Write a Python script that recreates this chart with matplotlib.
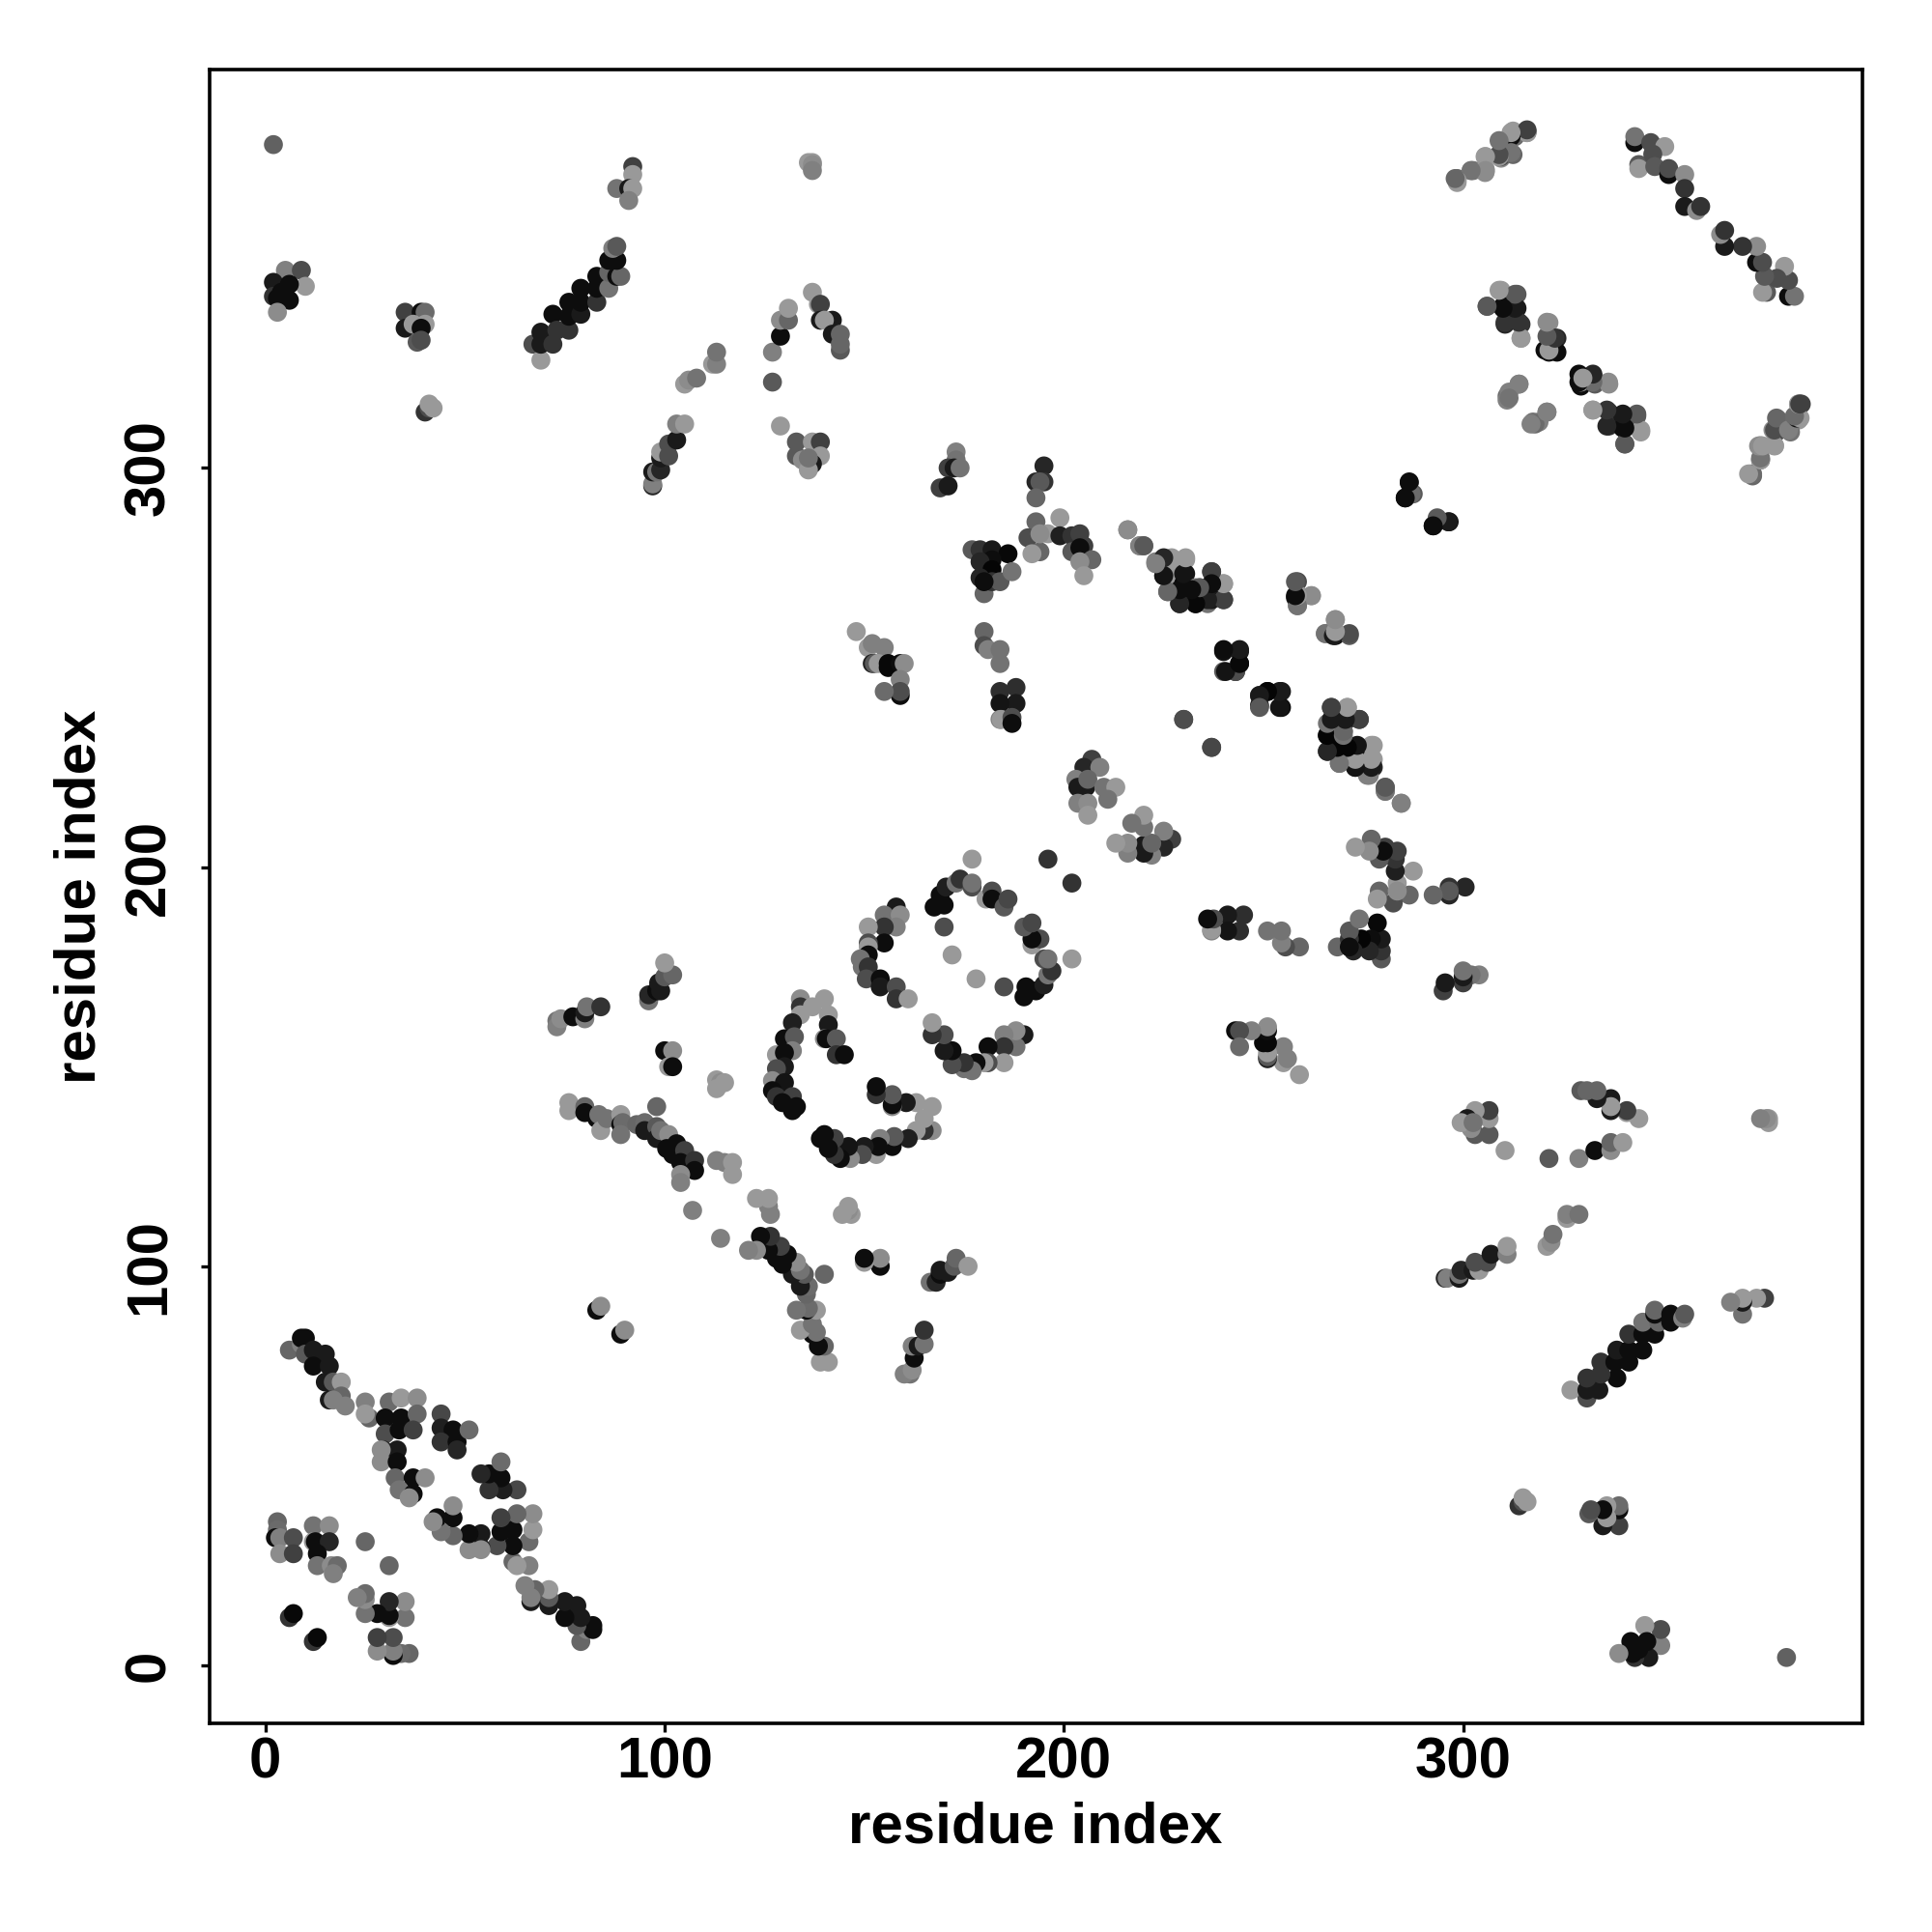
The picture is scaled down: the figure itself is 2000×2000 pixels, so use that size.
"""
contact map of a protein - residue index vs residue index, grey = contact strength
"""
import numpy as np
import matplotlib
matplotlib.use("Agg")
import matplotlib.pyplot as plt

plt.rcParams["font.family"] = ["Liberation Sans", "DejaVu Sans"]
plt.rcParams["font.weight"] = "bold"

# ---------------------------------------------------------------------------
# DATA - contacts, one triangle only (j > i),
# the map is symmetric so every contact is drawn at (i, j) and (j, i)
# ---------------------------------------------------------------------------
# bottom left hairpins
low_i = [6, 9, 10, 9, 10, 12, 15, 12, 16, 15, 17, 19, 16, 19, 20, 17,
         25, 26, 25, 31, 34, 38, 30, 34, 38, 30, 33.5, 37, 29.5, 33, 29, 29, 33, 32.5, 37, 40, 33.5, 37, 36,
         44, 44, 47, 44, 48, 48, 51]
low_j = [79, 80.5, 82, 82, 78, 79, 78, 75, 75, 71, 71, 71, 66.5, 67.5, 65, 66.5,
         66, 62, 63, 66, 67, 67, 62, 62, 63, 58, 59, 59, 54, 54, 51, 54, 51, 47, 47, 47, 44, 43, 42,
         63, 59.5, 59, 56, 56, 54, 59]
low_g = [.4, .5, .05, .05, .35, .1, .1, .05, .1, .1, .35, .6, .1, .4, .5, .5,
         .5, .4, .6, .42, .6, .55, .05, .05, .4, .3, .05, .25, .15, .1, .55, .55, .05, .4, .05, .55, .45, .05, .55,
         .28, .12, .05, .2, .05, .15, .42]

# small clusters in the corner
corner_i = [3, 3, 2.5, 3.6, 7, 3.6, 7, 12, 16, 12, 12.5, 16, 13, 13, 16.5, 18, 17, 25, 6, 7, 83, 84]
corner_j = [36, 34, 32, 32, 32, 28, 28, 35, 35, 31, 31, 31, 28, 25, 25, 25, 23, 31, 12, 13, 89, 90]
corner_g = [.4, .42, .05, .5, .3, .55, .25, .45, .55, .6, .05, .15, .05, .45, .55, .42, .5, .4, .2, .03, .05, .55]

# top left
top_i = [2, 5, 9, 2, 10, 2, 6, 3, 6, 4, 3, 35, 39, 40, 35, 37, 40, 39, 38, 39, 40, 41, 41, 42,
         67, 69, 69, 69, 72, 72, 73, 76, 76, 76, 79, 79, 79, 83, 83, 83, 86, 86, 88, 89, 86, 88, 87, 88,
         92, 92, 88, 91, 92, 91]
top_j = [381, 349.5, 349.5, 346.5, 345.5, 343, 346, 342.5, 342, 344, 339, 339, 339, 339, 335, 336, 336, 335, 331.5, 332, 314, 315, 316, 315,
         331, 327, 334, 331, 331, 338.5, 334.5, 334.5, 341.5, 338, 338.5, 345, 341.5, 341.5, 348, 345, 345, 349, 348, 348, 352, 352, 355, 355.5,
         375.5, 373.5, 370, 370, 370, 367]
top_g = [.38, .5, .3, .1, .6, .2, .05, .05, .05, .05, .55, .25, .05, .42, .1, .6, .6, .05, .35, .3, .2, .3, .6, .6,
         .3, .6, .1, .1, .2, .05, .2, .2, .05, .05, .1, .05, .05, .2, .05, .05, .45, .4, .05, .4, .05, .05, .5, .35,
         .25, .6, .45, .1, .6, .5]

# strands around residue 100-145, 295-380
upper_i = [97, 97, 97, 98, 99, 99, 99, 101, 101, 103, 103, 105, 105, 106, 108, 112, 113, 113,
           127, 127, 129, 129, 129, 131, 131, 137, 136, 137, 137, 137, 138.5, 139, 139, 142, 140, 142, 144, 144, 144,
           133, 133, 137, 139, 139, 134.5, 137, 136, 136]
upper_j = [295.5, 296, 299, 299, 299.5, 302.5, 304, 303, 306, 307, 311, 311, 321, 322, 322.5, 326, 326, 329,
           329, 321.5, 310.5, 333, 337, 337, 340, 376.5, 376.5, 376, 374.5, 344, 341, 341, 337, 337, 337, 333.5, 333.5, 329.5, 331,
           306.5, 303, 306.5, 306.5, 303, 302, 301, 299.5, 302.5]
upper_g = [.15, .5, .1, .45, .15, .1, .6, .3, .3, .1, .5, .6, .6, .55, .45, .6, .5, .45,
           .5, .35, .6, .05, .55, .4, .6, .6, .6, .55, .5, .6, .6, .25, .1, .1, .6, .1, .4, .35, .4,
           .35, .35, .6, .25, .6, .55, .1, .6, .45]

# the arc running from (170, 300) down to (240, 267)
arc_i = [173, 173, 171, 172.5, 174, 169, 171,
         195, 193, 195, 194, 193, 193, 191, 194, 196, 192, 194,
         177, 179, 182, 186, 182, 179, 180, 182, 179, 180, 182, 184, 187, 180,
         199, 199, 202, 204, 205, 202, 204, 205, 207, 204, 205,
         216, 219, 220, 223, 225, 227, 230.5, 225, 227, 230.5, 230, 226, 230, 229, 233, 233, 234, 236, 237, 237, 237, 240, 240]
arc_j = [304, 302, 300, 300, 300, 295, 295.5,
         300.5, 296.5, 296.5, 296.5, 292.5, 286.5, 282.5, 279, 283.5, 278.5, 283.5,
         279.5, 279.5, 279.5, 278.5, 277, 276.5, 271.5, 274.5, 272.5, 268.5, 271.5, 271.5, 274, 271.5,
         287.5, 283, 283, 283.5, 280.5, 279, 280, 277, 277, 276.5, 273,
         284.5, 280.5, 280.5, 276.5, 277, 277, 277, 273, 273, 273.5, 271, 269, 268.5, 266, 266, 270, 270, 266, 267, 274, 270.5, 271, 267]
arc_g = [.5, .45, .25, .1, .45, .25, .1,
         .15, .15, .2, .35, .4, .4, .3, .4, .6, .6, .55,
         .35, .2, .1, .03, .05, .15, .05, .02, .15, .4, .2, .35, .45, .05,
         .6, .12, .2, .25, .25, .35, .05, .05, .4, .55, .6,
         .5, .45, .35, .5, .1, .6, .6, .08, .6, .08, .02, .45, .02, .15, .02, .45, .4, .45, .1, .25, .1, .6, .25]

# middle column
mid_i = [258.5, 258.5, 258, 259, 262, 268, 265.5, 268, 268, 271.5,
         240, 244, 244, 243, 240, 249, 249, 251, 254.5, 254.5,
         267, 271, 274, 267, 271, 266, 270, 269.5, 266, 269.5, 273.5, 277.5, 269, 273, 277.5, 277.5, 276, 280.5, 280.5, 284.5,
         230, 237,
         180, 180, 181, 184, 184, 184, 188, 188, 184, 184, 184.3, 187, 187,
         148, 151, 152, 155, 152, 152.5, 153.5, 156, 156, 159, 160, 159, 159, 159, 155]
mid_j = [271.5, 265.5, 267.5, 268, 268, 262, 258.5, 258.5, 258, 258,
         254, 254, 251, 249, 249, 243, 240.5, 244, 244, 240,
         240, 240, 237, 236, 237, 233, 234, 232, 229, 229, 230, 230.5, 226, 225, 227, 225, 223, 219, 220, 216,
         237, 230,
         259, 255.5, 254.5, 254.5, 251, 244, 245, 241, 241, 237, 237, 237.5, 236,
         259, 255, 256, 255, 251, 251, 251, 251, 250, 251, 251, 247, 243, 244, 244]
mid_g = [.3, .45, .1, .6, .55, .55, .45, .6, .05, .35,
         .08, .1, .02, .1, .35, .3, .08, .03, .1, .05,
         .25, .6, .25, .12, .05, .03, .35, .05, .15, .05, .08, .6, .4, .08, .6, .15, .5, .5, .35, .55,
         .28, .3,
         .4, .3, .5, .45, .45, .18, .18, .1, .08, .5, .6, .3, .05,
         .6, .6, .5, .5, .12, .35, .6, .03, .03, .05, .55, .5, .05, .3, .42]

# near the diagonal, residues 203-213 and the long strand 73-108
near_i = [207, 205, 209, 203, 203.5, 205.5, 206, 210, 213, 211, 203.5, 206, 206,
          73, 73, 74, 77, 80, 80, 80.5, 84, 96, 96, 98, 99, 98.5, 100, 102, 100,
          100, 102, 101, 102, 113, 114, 115, 113,
          76, 76, 80, 80, 83, 83.5, 84, 85.5, 89, 89, 89.5, 89, 93, 95, 95, 98, 98, 98, 99, 101, 103, 100.5, 102, 105, 104, 107.5, 107.5, 104, 104, 107,
          113, 115, 117, 117]
near_j = [227, 225, 225, 222, 220, 220, 222, 220, 220, 217, 216, 216, 213,
          161.5, 160, 162, 162.5, 162, 163.5, 165, 165, 166.5, 168, 169, 169, 171, 172.5, 173, 176,
          154, 154, 150, 150, 146.7, 146, 146, 144.5,
          141, 139, 140, 138.5, 137, 138, 134, 137, 138, 135.5, 136, 133, 135.5, 136, 134, 140, 135, 132, 134, 133, 130.7, 129.5, 128, 129, 126, 126.5, 124, 123, 121, 114,
          126.5, 126, 126, 123]
near_g = [.25, .15, .5, .5, .1, .1, .4, .45, .6, .45, .5, .55, .6,
          .45, .5, .55, .05, .5, .1, .45, .2, .45, .15, .05, .1, .1, .35, .4, .6,
          .05, .55, .6, .05, .6, .55, .6, .6,
          .6, .6, .4, .05, .05, .45, .6, .45, .6, .05, .42, .45, .4, .42, .1, .4, .35, .1, .45, .55, .05, .05, .05, .25, .05, .2, .05, .55, .5, .5,
          .5, .5, .6, .6]

# hairpin and ring in the centre
ring_i = [134, 134, 134, 132, 130, 132.5, 132, 128, 130, 130, 128, 127, 130, 127, 128, 132, 129.5, 133, 132,
          140, 137, 141, 141, 140, 140.5, 143, 143, 145,
          158, 155, 159, 158, 155, 151, 155, 151, 151, 151, 149, 149.5, 151, 150.5, 154, 154, 158, 158, 161,
          167.5, 170, 169, 170.5, 173, 174, 177, 177, 170, 172, 177, 196, 180.5, 182, 182, 185, 186]
ring_j = [167, 165, 163, 161, 157, 157.5, 154, 153, 153.5, 150, 149.5, 146.5, 146, 144, 142.5, 142.5, 141, 140, 139,
          167, 165, 163, 160.5, 157, 157, 157, 153, 153,
          190, 188, 188, 185, 185, 185, 181, 181, 180, 178, 177, 175, 175, 172, 172, 170, 170, 167, 167,
          190, 190.5, 193, 195, 196, 197, 195, 196, 185, 178, 202, 202, 192, 194, 192, 190, 192]
ring_g = [.55, .2, .6, .12, .05, .35, .5, .6, .05, .1, .3, .55, .08, .05, .2, .25, .05, .05, .05,
          .6, .6, .6, .1, .55, .05, .35, .2, .05,
          .1, .45, .55, .5, .2, .6, .05, .3, .6, .05, .45, .45, .2, .3, .05, .1, .3, .2, .6,
          .05, .05, .05, .12, .45, .2, .3, .45, .3, .6, .6, .2, .6, .3, .05, .35, .28]

# top right
right_i = [298.5, 298.5, 302, 302.5, 305.5, 305.5, 305.5, 309.5, 309.5, 312.5, 309.5, 312.5, 312.5, 313, 316, 316,
           343, 343, 347, 350.5, 344, 344, 347.5, 348, 351.5, 351.5, 355.5, 355.5, 355.5, 358.5, 359.5,
           309.5, 306, 313.5, 310, 313.5, 310.5, 314.5, 314.5, 321.5, 321.5, 323.5, 321.5, 323.5, 322.5,
           329.5, 329.5, 329.5, 332.5, 333, 336.5,
           311, 314, 311, 321, 319, 317.5, 332.5, 336.5, 336.5, 340, 343.5, 340, 344.5, 340.5,
           384, 384.7, 383, 384, 379, 378, 378.5, 382, 378, 374.5, 374.5, 372, 372.5,
           286.5, 287.5, 285.5, 293.5, 292.5, 296.5]
right_j = [372.5, 371.5, 374.5, 374.5, 374, 375, 378, 377.6, 378, 378.5, 381.5, 383.6, 384.4, 383, 384, 384.3,
           381.5, 383, 381.5, 380.5, 376, 375, 378.6, 375.5, 373.5, 375, 373.5, 370, 365.5, 364.5, 365.5,
           344.5, 340.5, 343.5, 340.5, 340, 336, 336, 332.5, 336.4, 332.5, 332.5, 329, 329, 330,
           323, 320.5, 321.5, 323, 321, 321,
           318, 321, 317, 314, 311.5, 311.5, 314.5, 314, 310.5, 313, 313, 310, 309, 306,
           316, 316, 312, 312, 312, 309, 309, 309, 305.6, 305.6, 302, 298.5, 298,
           296.3, 293.5, 292.5, 287, 285.5, 286.5]
right_g = [.42, .6, .6, .45, .55, .6, .6, .55, .3, .4, .5, .05, .6, .42, .6, .25,
           .05, .45, .3, .6, .35, .6, .3, .35, .05, .3, .55, .2, .1, .55, .2,
           .6, .35, .35, .05, .1, .15, .2, .6, .55, .42, .15, .05, .05, .6,
           .05, .05, .6, .2, .35, .55,
           .42, .5, .5, .5, .5, .45, .6, .2, .2, .1, .35, .05, .6, .35,
           .6, .25, .05, .6, .45, .6, .3, .45, .6, .55, .45, .6, .4,
           .1, .35, .05, .42, .05, .05]

tick_values = [0, 100, 200, 300]
axis_label = "residue index"

# ---------------------------------------------------------------------------
# PLOT
# ---------------------------------------------------------------------------
contact_i = np.array(low_i + corner_i + top_i + upper_i + arc_i + mid_i + near_i + ring_i + right_i)
contact_j = np.array(low_j + corner_j + top_j + upper_j + arc_j + mid_j + near_j + ring_j + right_j)
shade = np.array(low_g + corner_g + top_g + upper_g + arc_g + mid_g + near_g + ring_g + right_g)

fig = plt.figure(figsize=(10, 10), dpi=200)
ax = fig.add_axes([216.5 / 2000, 1 - 1784 / 2000, 1711 / 2000, 1712 / 2000])

grey = np.repeat(shade[:, None], 3, axis=1)
ax.scatter(contact_i, contact_j, s=50, c=grey, linewidths=0, zorder=2)
ax.scatter(contact_j, contact_i, s=50, c=grey, linewidths=0, zorder=2)

ax.set_xlim(-14.1, 399.9)
ax.set_ylim(-14.5, 399.8)
ax.set_xticks(tick_values)
ax.set_yticks(tick_values)
ax.set_xlabel(axis_label, fontsize=21.6, fontweight="bold", labelpad=4.5)
ax.set_ylabel(axis_label, fontsize=21.6, fontweight="bold", labelpad=6)
ax.tick_params(axis="both", length=3.2, width=1.2, labelsize=21.6)
ax.tick_params(axis="x", pad=1.5)
ax.tick_params(axis="y", pad=9, labelrotation=90)
for lab in ax.get_yticklabels():
    lab.set_va("center")
for sp in ax.spines.values():
    sp.set_linewidth(1.3)

fig.savefig("out.png", dpi=200)
